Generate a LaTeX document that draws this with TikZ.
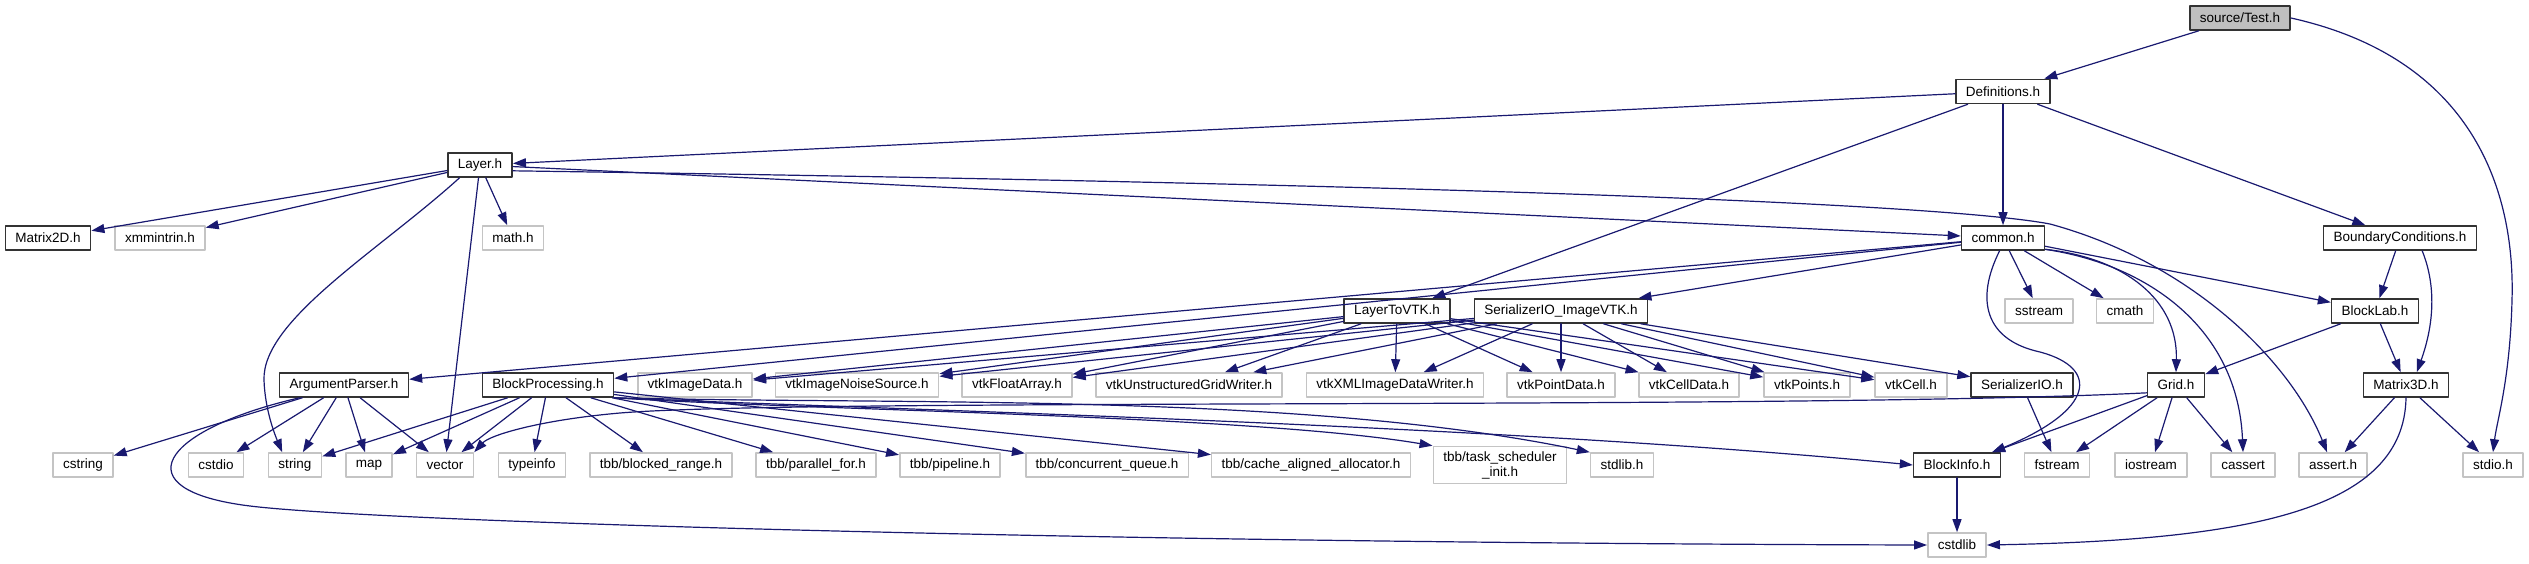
\documentclass[tikz,border=0pt]{standalone}
\usepackage{fontspec}
\setmainfont{Liberation Sans}
\usetikzlibrary{arrows.meta,calc}

\definecolor{edgeblue}{RGB}{25,25,112}
\definecolor{extgray}{RGB}{196,196,196}

\begin{document}
\begin{tikzpicture}[x=1pt, y=-1pt, >={Triangle[length=13pt,width=9pt]},
  line cap=round, line join=round,
  box/.style={rectangle, fill=white, minimum height=24pt, inner xsep=10pt,
    inner ysep=0pt, line width=1.6pt, font=\fontsize{13.5}{15}\selectfont},
  hdr/.style={box, draw=black!80},
  ext/.style={box, draw=extgray},
  cur/.style={hdr, fill=black!25},
  dep/.style={->, draw=edgeblue, line width=1.2pt}]

% ----------------------------
% CANVAS (pixel grid of the graph)
% ----------------------------
\useasboundingbox (0,0) rectangle (2529,563);

% ----------------------------
% RANK 0-2
% ----------------------------
\node[cur] (test)   at (2240,18)   {source/Test.h};
\node[hdr] (defs)   at (2003,91.5) {Definitions.h};
\node[hdr] (layer)  at (480,165)   {Layer.h};

% ----------------------------
% RANK 3
% ----------------------------
\node[hdr] (m2d)    at (48,238)    {Matrix2D.h};
\node[ext] (xmm)    at (160,238)   {xmmintrin.h};
\node[ext] (mathh)  at (513,238)   {math.h};
\node[hdr] (common) at (2003,238)  {common.h};
\node[hdr] (bcond)  at (2400,238)  {BoundaryConditions.h};

% ----------------------------
% RANK 4
% ----------------------------
\node[hdr] (l2vtk)   at (1397,311) {LayerToVTK.h};
\node[hdr] (sivtk)   at (1561,311) {SerializerIO\_ImageVTK.h};
\node[ext] (sstream) at (2039,311) {sstream};
\node[ext] (cmath)   at (2125,311) {cmath};
\node[hdr] (blab)    at (2375,311) {BlockLab.h};

% ----------------------------
% RANK 5
% ----------------------------
\node[hdr] (argp)   at (344,385)  {ArgumentParser.h};
\node[hdr] (bproc)  at (548,385)  {BlockProcessing.h};
\node[ext] (vimg)   at (695,385)  {vtkImageData.h};
\node[ext] (vnoise) at (857,385)  {vtkImageNoiseSource.h};
\node[ext] (vfloat) at (1017,385) {vtkFloatArray.h};
\node[ext] (vugw)   at (1189,385) {vtkUnstructuredGridWriter.h};
\node[ext] (vxml)   at (1395,385) {vtkXMLImageDataWriter.h};
\node[ext] (vpd)    at (1561,385) {vtkPointData.h};
\node[ext] (vcd)    at (1689,385) {vtkCellData.h};
\node[ext] (vpts)   at (1807,385) {vtkPoints.h};
\node[ext] (vcell)  at (1911,385) {vtkCell.h};
\node[hdr] (serio)  at (2022,385) {SerializerIO.h};
\node[hdr] (grid)   at (2176,385) {Grid.h};
\node[hdr] (m3d)    at (2406,385) {Matrix3D.h};

% ----------------------------
% RANK 6
% ----------------------------
\node[ext] (cstring)  at (83,465)   {cstring};
\node[ext] (cstdio)   at (216,465)  {cstdio};
\node[ext] (string)   at (295,465)  {string};
\node[ext] (map)      at (369,465)  {map};
\node[ext] (vector)   at (445,465)  {vector};
\node[ext] (typeinfo) at (532,465)  {typeinfo};
\node[ext] (tbbbr)    at (661,465)  {tbb/blocked\_range.h};
\node[ext] (tbbpf)    at (816,465)  {tbb/parallel\_for.h};
\node[ext] (tbbpipe)  at (950,465)  {tbb/pipeline.h};
\node[ext] (tbbcq)    at (1107,465) {tbb/concurrent\_queue.h};
\node[ext] (tbbcaa)   at (1311,465) {tbb/cache\_aligned\_allocator.h};
\node[ext, align=center, minimum height=37pt] (tbbtsi) at (1500,465)
  {tbb/task\_scheduler\\\_init.h};
\node[ext] (stdlib)   at (1622,465) {stdlib.h};
\node[hdr] (binfo)    at (1957,465) {BlockInfo.h};
\node[ext] (fstream)  at (2057,465) {fstream};
\node[ext] (iostream) at (2151,465) {iostream};
\node[ext] (cassert)  at (2243,465) {cassert};
\node[ext] (asserth)  at (2333,465) {assert.h};
\node[ext] (stdio)    at (2493,465) {stdio.h};

% ----------------------------
% RANK 7
% ----------------------------
\node[ext] (cstdlib) at (1957,545) {cstdlib};

% ----------------------------
% EDGES: source/Test.h, Definitions.h
% ----------------------------
\draw[dep] (test) -- (defs);
\draw[dep] (test.east) .. controls (2480,60) and (2515,200) .. (2512,300)
  .. controls (2510,380) and (2497,420) .. (stdio.north);

\draw[dep] (defs) -- (layer);
\draw[dep] (defs) -- (l2vtk);
\draw[dep] (defs) -- (common);
\draw[dep] (defs) -- (bcond);

% ----------------------------
% EDGES: Layer.h
% ----------------------------
\draw[dep] (layer) -- (m2d);
\draw[dep] (layer) -- (xmm);
\draw[dep] (layer) -- (mathh);
\draw[dep] (layer) -- (vector);
\draw[dep] (layer) -- (common);
\draw[dep] (layer.212) .. controls (380,250) and (262,320) .. (264,380)
  .. controls (265,410) and (275,435) .. (string.135);
\draw[dep] (layer.-10) .. controls (1500,185) and (1950,205) .. (2050,224)
  .. controls (2190,262) and (2290,360) .. (asserth.115);

% ----------------------------
% EDGES: common.h
% ----------------------------
\draw[dep] (common) -- (argp);
\draw[dep] (common) -- (bproc);
\draw[dep] (common) -- (sivtk);
\draw[dep] (common) -- (sstream);
\draw[dep] (common) -- (cmath);
\draw[dep] (common) -- (blab);
\draw[dep] (common.-15) .. controls (2125,258) and (2178,300) .. (grid.north);
\draw[dep] (common.-15) .. controls (2150,265) and (2238,330) .. (cassert.north);
\draw[dep] (common.255) .. controls (1975,300) and (1985,340) .. (2040,352)
  .. controls (2100,368) and (2095,410) .. (binfo.20);

% ----------------------------
% EDGES: BoundaryConditions.h, BlockLab.h
% ----------------------------
\draw[dep] (bcond) -- (blab);
\draw[dep] (bcond.-30) .. controls (2438,290) and (2432,330) .. (m3d.50);
\draw[dep] (blab) -- (grid);
\draw[dep] (blab) -- (m3d);

% ----------------------------
% EDGES: LayerToVTK.h
% ----------------------------
\draw[dep] (l2vtk) -- (vimg);
\draw[dep] (l2vtk) -- (vnoise);
\draw[dep] (l2vtk) -- (vfloat);
\draw[dep] (l2vtk) -- (vugw);
\draw[dep] (l2vtk) -- (vxml);
\draw[dep] (l2vtk) -- (vpd);
\draw[dep] (l2vtk) -- (vcd);
\draw[dep] (l2vtk) -- (vpts);
\draw[dep] (l2vtk) -- (vcell);

% ----------------------------
% EDGES: SerializerIO_ImageVTK.h
% ----------------------------
\draw[dep] (sivtk) -- (vimg);
\draw[dep] (sivtk) -- (vnoise);
\draw[dep] (sivtk) -- (vfloat);
\draw[dep] (sivtk) -- (vugw);
\draw[dep] (sivtk) -- (vxml);
\draw[dep] (sivtk) -- (vpd);
\draw[dep] (sivtk) -- (vcd);
\draw[dep] (sivtk) -- (vpts);
\draw[dep] (sivtk) -- (vcell);
\draw[dep] (sivtk) -- (serio);

% ----------------------------
% EDGES: ArgumentParser.h
% ----------------------------
\draw[dep] (argp) -- (cstring);
\draw[dep] (argp) -- (cstdio);
\draw[dep] (argp) -- (string);
\draw[dep] (argp) -- (map);
\draw[dep] (argp) -- (vector);
\draw[dep] (argp.196) .. controls (160,430) and (120,490) .. (250,506)
  .. controls (380,522) and (1100,543) .. (cstdlib.west);

% ----------------------------
% EDGES: BlockProcessing.h
% ----------------------------
\draw[dep] (bproc) -- (string);
\draw[dep] (bproc) -- (map);
\draw[dep] (bproc) -- (vector);
\draw[dep] (bproc) -- (typeinfo);
\draw[dep] (bproc) -- (tbbbr);
\draw[dep] (bproc) -- (tbbpf);
\draw[dep] (bproc) -- (tbbpipe);
\draw[dep] (bproc) -- (tbbcq);
\draw[dep] (bproc) -- (tbbcaa);
\draw[dep] (bproc.south east) .. controls (800,410) and (1250,415) .. (tbbtsi.north west);
\draw[dep] (bproc.south east) .. controls (900,405) and (1300,392) .. (stdlib.north west);
\draw[dep] (bproc.south east) .. controls (900,410) and (1500,425) .. (binfo.west);

% ----------------------------
% EDGES: Grid.h, SerializerIO.h, BlockInfo.h, Matrix3D.h
% ----------------------------
\draw[dep] (grid) -- (binfo);
\draw[dep] (grid) -- (fstream);
\draw[dep] (grid) -- (iostream);
\draw[dep] (grid) -- (cassert);
\draw[dep] (grid.195) .. controls (1800,410) and (800,398) .. (620,413)
  .. controls (540,420) and (490,435) .. (vector.north east);

\draw[dep] (serio) -- (fstream);
\draw[dep] (binfo) -- (cstdlib);

\draw[dep] (m3d) -- (asserth);
\draw[dep] (m3d) -- (stdio);
\draw[dep] (m3d.south) .. controls (2404,510) and (2250,540) .. (cstdlib.east);

\end{tikzpicture}
\end{document}
